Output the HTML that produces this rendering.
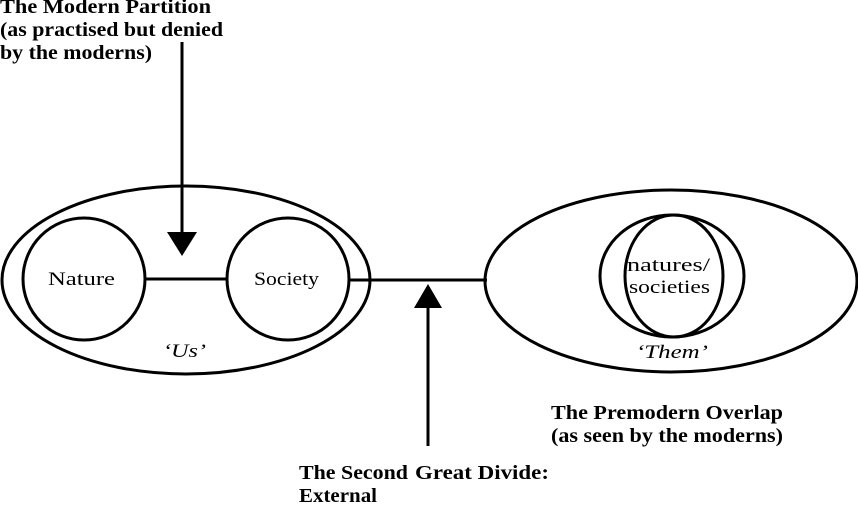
<!DOCTYPE html>
<html><head><meta charset="utf-8"><style>
html,body{margin:0;padding:0;background:#fff;}
svg{display:block}
text{font-family:"Liberation Serif",serif;fill:#000}
.b{font-weight:bold;font-size:20px}
.n{font-size:19px}
.i{font-style:italic;font-size:19px}
</style></head><body>
<svg width="858" height="508" viewBox="0 0 858 508" xmlns="http://www.w3.org/2000/svg">
<g fill="none" stroke="#000" stroke-width="3">
<ellipse cx="186" cy="280" rx="184" ry="94"/>
<circle cx="84" cy="279" r="61"/>
<circle cx="288" cy="279" r="61"/>
<line x1="145" y1="279" x2="227" y2="279"/>
<line x1="349" y1="280" x2="487" y2="280"/>
<ellipse cx="671" cy="281" rx="186" ry="91"/>
<ellipse cx="672" cy="276" rx="72" ry="61"/>
<ellipse cx="674" cy="276" rx="49" ry="61"/>
<line x1="182" y1="42" x2="182" y2="235"/>
<line x1="428" y1="290" x2="428" y2="446"/>
</g>
<polygon points="167,232 197,232 182,256" fill="#000"/>
<polygon points="414,308 442,308 428,284" fill="#000"/>
<text class="b" x="0" y="13" textLength="211" lengthAdjust="spacingAndGlyphs">The Modern Partition</text>
<text class="b" x="0" y="36" textLength="223" lengthAdjust="spacingAndGlyphs">(as practised but denied</text>
<text class="b" x="0" y="59" textLength="152" lengthAdjust="spacingAndGlyphs">by the moderns)</text>
<text class="n" x="48" y="285" textLength="67" lengthAdjust="spacingAndGlyphs">Nature</text>
<text class="n" x="254" y="285" textLength="65" lengthAdjust="spacingAndGlyphs">Society</text>
<text class="i" x="163" y="357" textLength="43" lengthAdjust="spacingAndGlyphs">‘Us’</text>
<text class="n" x="627" y="271" textLength="83" lengthAdjust="spacingAndGlyphs">natures/</text>
<text class="n" x="629" y="293" textLength="81" lengthAdjust="spacingAndGlyphs">societies</text>
<text class="i" x="636" y="358" textLength="72" lengthAdjust="spacingAndGlyphs">‘Them’</text>
<text class="b" x="551" y="419" textLength="232" lengthAdjust="spacingAndGlyphs">The Premodern Overlap</text>
<text class="b" x="551" y="442" textLength="232" lengthAdjust="spacingAndGlyphs">(as seen by the moderns)</text>
<text class="b" x="299" y="479" textLength="109" lengthAdjust="spacingAndGlyphs">The Second</text>
<text class="b" x="415" y="479" textLength="134" lengthAdjust="spacingAndGlyphs">Great Divide:</text>
<text class="b" x="299" y="502" textLength="78" lengthAdjust="spacingAndGlyphs">External</text>
</svg>
</body></html>
